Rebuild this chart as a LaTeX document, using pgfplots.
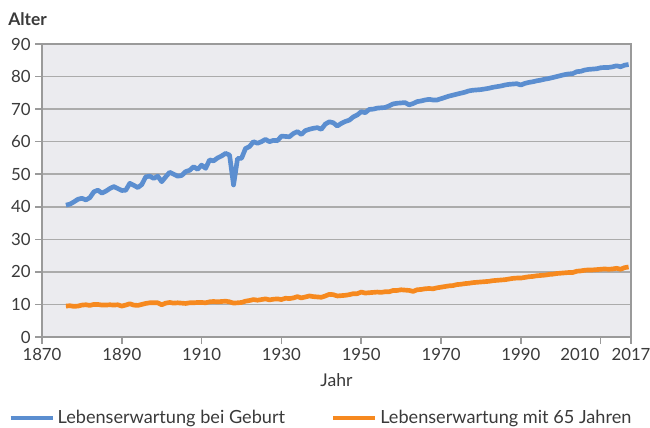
\documentclass[border=0pt]{standalone}
\usepackage{fontspec}
\setmainfont{Lato}
\usepackage{pgfplots}
\usepackage{pgfplotstable}
\pgfplotsset{compat=1.18}
\definecolor{bgc}{HTML}{EBEBEF}
\definecolor{gridc}{HTML}{ABABAB}
\definecolor{axc}{HTML}{9A9A9A}
\definecolor{blu}{HTML}{5B8ED0}
\definecolor{org}{HTML}{F6891F}
\definecolor{txt}{HTML}{3A3A3A}

\pgfplotstableread{
year val
1876 40.5
1877 40.8
1878 41.5
1879 42.3
1880 42.6
1881 42.1
1882 42.8
1883 44.6
1884 45.1
1885 44.2
1886 44.8
1887 45.6
1888 46.2
1889 45.6
1890 45.0
1891 45.1
1892 47.2
1893 46.6
1894 45.9
1895 46.8
1896 49.2
1897 49.4
1898 48.7
1899 49.4
1900 47.7
1901 49.2
1902 50.6
1903 50.0
1904 49.4
1905 49.6
1906 50.8
1907 51.2
1908 52.3
1909 51.5
1910 52.8
1911 51.8
1912 54.4
1913 54.1
1914 55.0
1915 55.6
1916 56.4
1917 55.9
1918 46.7
1919 54.8
1920 54.9
1921 57.9
1922 58.5
1923 60.0
1924 59.5
1925 60.0
1926 60.7
1927 60.0
1928 60.4
1929 60.3
1930 61.7
1931 61.6
1932 61.5
1933 62.5
1934 63.1
1935 62.2
1936 63.4
1937 63.8
1938 64.1
1939 64.3
1940 63.8
1941 65.4
1942 66.1
1943 65.8
1944 64.8
1945 65.6
1946 66.2
1947 66.6
1948 67.6
1949 68.2
1950 69.2
1951 68.9
1952 69.9
1953 70.0
1954 70.3
1955 70.4
1956 70.5
1957 71.0
1958 71.6
1959 71.8
1960 71.9
1961 72.0
1962 71.3
1963 71.7
1964 72.3
1965 72.5
1966 72.8
1967 73.0
1968 72.8
1969 72.8
1970 73.2
1971 73.6
1972 74.0
1973 74.3
1974 74.6
1975 74.9
1976 75.2
1977 75.6
1978 75.8
1979 75.9
1980 76.0
1981 76.2
1982 76.4
1983 76.7
1984 76.9
1985 77.1
1986 77.4
1987 77.6
1988 77.7
1989 77.8
1990 77.4
1991 77.9
1992 78.2
1993 78.4
1994 78.7
1995 78.9
1996 79.2
1997 79.4
1998 79.7
1999 80.0
2000 80.3
2001 80.6
2002 80.8
2003 80.9
2004 81.5
2005 81.6
2006 82.0
2007 82.2
2008 82.3
2009 82.4
2010 82.7
2011 82.8
2012 82.8
2013 83.0
2014 83.3
2015 83.0
2016 83.5
2017 83.7
}\geburt

\pgfplotstableread{
year val
1876 9.5
1877 9.6
1878 9.4
1879 9.5
1880 9.8
1881 9.9
1882 9.7
1883 10.0
1884 10.0
1885 9.8
1886 9.8
1887 9.9
1888 9.8
1889 9.9
1890 9.5
1891 9.8
1892 10.2
1893 9.8
1894 9.7
1895 10.0
1896 10.3
1897 10.5
1898 10.5
1899 10.5
1900 9.9
1901 10.4
1902 10.6
1903 10.4
1904 10.5
1905 10.4
1906 10.3
1907 10.5
1908 10.5
1909 10.6
1910 10.6
1911 10.5
1912 10.8
1913 10.9
1914 10.8
1915 10.9
1916 11.0
1917 10.8
1918 10.4
1919 10.5
1920 10.6
1921 11.0
1922 11.2
1923 11.5
1924 11.3
1925 11.5
1926 11.7
1927 11.4
1928 11.6
1929 11.7
1930 11.5
1931 11.9
1932 11.8
1933 12.0
1934 12.4
1935 12.0
1936 12.3
1937 12.6
1938 12.4
1939 12.3
1940 12.2
1941 12.6
1942 13.1
1943 13.0
1944 12.6
1945 12.7
1946 12.8
1947 13.0
1948 13.3
1949 13.3
1950 13.8
1951 13.5
1952 13.6
1953 13.7
1954 13.8
1955 13.7
1956 13.9
1957 13.9
1958 14.3
1959 14.3
1960 14.5
1961 14.4
1962 14.3
1963 14.0
1964 14.5
1965 14.6
1966 14.8
1967 14.9
1968 14.8
1969 15.1
1970 15.3
1971 15.5
1972 15.7
1973 15.8
1974 16.1
1975 16.2
1976 16.4
1977 16.5
1978 16.7
1979 16.8
1980 16.9
1981 17.0
1982 17.1
1983 17.3
1984 17.4
1985 17.5
1986 17.6
1987 17.8
1988 18.0
1989 18.1
1990 18.1
1991 18.3
1992 18.5
1993 18.6
1994 18.8
1995 18.9
1996 19.0
1997 19.2
1998 19.3
1999 19.5
2000 19.6
2001 19.7
2002 19.8
2003 19.8
2004 20.2
2005 20.3
2006 20.5
2007 20.6
2008 20.6
2009 20.7
2010 20.8
2011 20.9
2012 20.8
2013 20.9
2014 21.1
2015 20.8
2016 21.3
2017 21.5
}\mitfuenf

\begin{document}
\begin{tikzpicture}
\begin{axis}[
  name=ax,
  scale only axis,
  width=441.75pt, height=219.75pt,
  xmin=1870, xmax=2017.6, ymin=0, ymax=90,
  xtick={1870,1890,1910,1930,1950,1970,1990,2010,2017.6},
  xticklabels={1870,1890,1910,1930,1950,1970,1990,{\makebox[0pt][r]{2010\hspace{1pt}}},2017},
  ytick={0,10,...,90},
  /pgf/number format/.cd, 1000 sep={}, assume math mode=true,
  /pgfplots/.cd,
  tick pos=left,
  tick align=outside,
  major tick length=5pt,
  tick style={axc, line width=1.2pt},
  axis line style={axc, line width=1.6pt},
  ymajorgrids,
  grid style={gridc, line width=1.1pt},
  axis background/.style={fill=bgc},
  ticklabel style={font=\fontsize{12.6}{14}\selectfont, text=txt},
  xlabel={Jahr},
  xlabel style={font=\fontsize{13.2}{15}\selectfont, text=txt, yshift=-3pt},
  legend columns=2,
  legend style={draw=none, fill=none, inner sep=0pt,
    at={(-0.0577,-0.276)}, anchor=west,
    font=\fontsize{13.6}{15}\selectfont, text=txt},
  legend image code/.code={\draw[#1, line width=3.5pt] (0pt,0pt) -- (31.5pt,0pt);},
  clip=false,
]
\addplot[blu, line width=3.5pt, line join=round] table[x=year, y=val] {\geburt};
\addlegendentry{\makebox[203pt][l]{Lebenserwartung bei Geburt}}
\addplot[org, line width=3.5pt, line join=round] table[x=year, y=val] {\mitfuenf};
\addlegendentry{Lebenserwartung mit 65 Jahren}
\coordinate (sw) at (rel axis cs:0,0);
\coordinate (ne) at (rel axis cs:1,1);
\coordinate (nw) at (rel axis cs:0,1);
\end{axis}
\node[anchor=base west, font=\bfseries\fontsize{13}{15}\selectfont, text=txt, inner sep=0pt] at ([xshift=-25.5pt, yshift=13.5pt]nw) {Alter};
\pgfresetboundingbox
\path[use as bounding box] ([xshift=-31.5pt,yshift=-68.25pt]sw) rectangle ([xshift=14.25pt,yshift=33pt]ne);
\end{tikzpicture}
\end{document}
